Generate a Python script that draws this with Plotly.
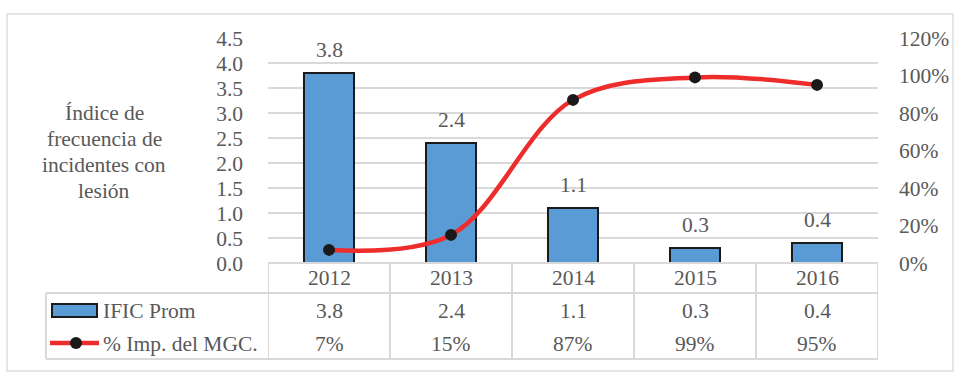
import plotly.graph_objects as go

years = ["2012", "2013", "2014", "2015", "2016"]
ific_prom = [3.8, 2.4, 1.1, 0.3, 0.4]
imp_mgc = [0.07, 0.15, 0.87, 0.99, 0.95]
series_names = ["IFIC Prom", "% Imp. del MGC."]
y_title_lines = ["Índice de", "frecuencia de", "incidentes con", "lesión"]

FONT = "Liberation Serif"
GRAY = "#595959"
GRID = "#D9D9D9"
BLUE = "#5B9BD5"
RED = "#EE2C2C"
FS = 21.5

L, R, T, B = 268, 878, 38, 263
W, H = R - L, B - T


def px(x):
    return (x - L) / W


def py(y):
    return (B - y) / H


fig = go.Figure()
fig.add_trace(go.Bar(
    x=years, y=ific_prom, name=series_names[0], width=0.41,
    marker=dict(color=BLUE, line=dict(color="#1A1A1A", width=2)),
    yaxis="y", showlegend=False, hoverinfo="skip",
))
fig.add_trace(go.Scatter(
    x=years, y=imp_mgc, name=series_names[1], mode="lines+markers",
    line=dict(color=RED, width=4.5, shape="spline", smoothing=1),
    marker=dict(color="#1A1A1A", size=12),
    yaxis="y2", showlegend=False, hoverinfo="skip",
))

ann = []
# bar data labels
for i, v in enumerate(ific_prom):
    ann.append(dict(x=i, y=v, xref="x", yref="y", text=f"{v:.1f}", showarrow=False,
                    yanchor="bottom", yshift=9, font=dict(family=FONT, size=FS, color=GRAY)))
# axis title
for ty, line in zip([113, 139, 165, 191], y_title_lines):
    ann.append(dict(x=px(104), y=py(ty), xref="paper", yref="paper", text=line, showarrow=False,
                    xanchor="center", yanchor="middle", font=dict(family=FONT, size=FS, color=GRAY)))
# data table
for i, (yr, v, p) in enumerate(zip(years, ific_prom, imp_mgc)):
    ann.append(dict(x=i, y=py(278), xref="x", yref="paper", text=yr, showarrow=False,
                    yanchor="middle", font=dict(family=FONT, size=FS, color=GRAY)))
    ann.append(dict(x=i, y=py(311), xref="x", yref="paper", text=f"{v:.1f}", showarrow=False,
                    yanchor="middle", font=dict(family=FONT, size=FS, color=GRAY)))
    ann.append(dict(x=i, y=py(344), xref="x", yref="paper", text=f"{p*100:.0f}%", showarrow=False,
                    yanchor="middle", font=dict(family=FONT, size=FS, color=GRAY)))
ann.append(dict(x=px(101), y=py(311), xref="paper", yref="paper", text=series_names[0], showarrow=False,
                xanchor="left", yanchor="middle", font=dict(family=FONT, size=FS, color=GRAY)))
ann.append(dict(x=px(101), y=py(344), xref="paper", yref="paper", text=series_names[1], showarrow=False,
                xanchor="left", yanchor="middle", font=dict(family=FONT, size=FS, color=GRAY)))

shapes = []
# outer border
shapes.append(dict(type="rect", xref="paper", yref="paper", x0=px(7), x1=px(953), y0=py(371), y1=py(14),
                   line=dict(color="#E6E6E6", width=2), layer="below"))
# table lines
tl = dict(color=GRID, width=2)
shapes.append(dict(type="line", xref="paper", yref="paper", x0=0, x1=1, y0=py(263), y1=py(263), line=tl))
shapes.append(dict(type="line", xref="paper", yref="paper", x0=px(46), x1=1, y0=py(293), y1=py(293), line=tl))
shapes.append(dict(type="line", xref="paper", yref="paper", x0=px(46), x1=1, y0=py(359), y1=py(359), line=tl))
shapes.append(dict(type="line", xref="paper", yref="paper", x0=px(46), x1=px(46), y0=py(293), y1=py(359), line=tl))
for i in range(len(years) + 1):
    shapes.append(dict(type="line", xref="x", yref="paper", x0=i - 0.5, x1=i - 0.5, y0=py(263), y1=py(359), line=tl))
# legend keys
shapes.append(dict(type="rect", xref="paper", yref="paper", x0=px(52), x1=px(97), y0=py(317), y1=py(304),
                   fillcolor=BLUE, line=dict(color="#1A1A1A", width=2)))
shapes.append(dict(type="line", xref="paper", yref="paper", x0=px(50), x1=px(99), y0=py(343), y1=py(343),
                   line=dict(color=RED, width=4.5)))
shapes.append(dict(type="circle", xref="paper", yref="paper", x0=px(70), x1=px(82), y0=py(349), y1=py(337),
                   fillcolor="#1A1A1A", line=dict(color="#1A1A1A", width=0)))

fig.update_layout(
    width=960, height=374,
    margin=dict(l=L, r=960 - R, t=T, b=374 - B, pad=0),
    paper_bgcolor="white", plot_bgcolor="white",
    font=dict(family=FONT, size=FS, color=GRAY),
    hovermode=False,
    xaxis=dict(type="category", range=[-0.5, 4.5], showticklabels=False, showgrid=False,
               zeroline=False, showline=False, ticks=""),
    yaxis=dict(range=[0, 4.5], dtick=0.5, tickformat=".1f", showgrid=True, gridcolor=GRID, gridwidth=2,
               zeroline=False, showline=False, ticks="", ticklabelstandoff=24,
               tickfont=dict(family=FONT, size=FS, color=GRAY)),
    yaxis2=dict(range=[0, 1.2], dtick=0.2, tickformat=".0%", overlaying="y", side="right",
                showgrid=False, zeroline=False, showline=False, ticks="", ticklabelstandoff=20,
                tickfont=dict(family=FONT, size=FS, color=GRAY)),
    annotations=ann, shapes=shapes,
)

fig.write_html("out.html", config={"displayModeBar": False, "staticPlot": True},
               post_script="document.body.style.margin='0';document.body.style.overflow='hidden';")
